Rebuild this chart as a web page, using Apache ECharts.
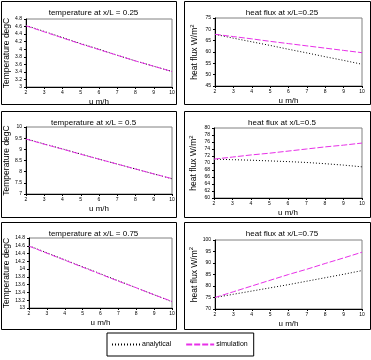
<!DOCTYPE html>
<html>
<head>
  <meta charset="utf-8">
  <script src="https://cdn.jsdelivr.net/npm/echarts@6/dist/echarts.min.js"></script>
  <title>temperature / heat flux</title>
  <style type="text/css">
    html,
    body {
      margin: 0;
      background-color: #fff;
    }

    #main {
      width: 371px;
      height: 360px;
    }
  </style>
</head>
<body>
  <div id="main"></div>
  <script type="text/javascript">
    // flow velocity u (m/h)
    var u = [2, 3, 4, 5, 6, 7, 8, 9, 10];

    // temperature, degC
    var temp025Analytical = [4.63, 4.47, 4.31, 4.15, 4.00, 3.84, 3.69, 3.55, 3.41];
    var temp025Simulation = [4.62, 4.46, 4.30, 4.14, 3.99, 3.84, 3.69, 3.55, 3.41];
    var temp05Analytical = [9.47, 9.24, 9.02, 8.79, 8.56, 8.34, 8.12, 7.90, 7.68];
    var temp05Simulation = [9.46, 9.23, 9.01, 8.78, 8.56, 8.34, 8.12, 7.90, 7.69];
    var temp075Analytical = [14.60, 14.42, 14.24, 14.06, 13.88, 13.70, 13.52, 13.34, 13.16];
    var temp075Simulation = [14.59, 14.41, 14.23, 14.05, 13.87, 13.69, 13.52, 13.34, 13.17];

    // heat flux, W/m2
    var flux025Analytical = [67.8, 66.1, 64.5, 62.9, 61.2, 59.6, 57.9, 56.3, 54.6];
    var flux025Simulation = [67.8, 66.8, 65.8, 64.7, 63.7, 62.7, 61.7, 60.7, 59.7];
    var flux05Analytical = [71.1, 70.95, 70.8, 70.6, 70.4, 70.15, 69.8, 69.4, 68.9];
    var flux05Simulation = [71.1, 71.7, 72.3, 72.8, 73.4, 74.0, 74.6, 75.1, 75.7];
    var flux075Analytical = [75.0, 76.4, 77.8, 79.2, 80.6, 82.1, 83.6, 85.1, 86.7];
    var flux075Simulation = [75.0, 77.5, 80.0, 82.5, 85.0, 87.3, 89.8, 92.2, 94.7];

    var font = 'Liberation Sans, Arial, sans-serif';
    var magenta = '#e830e8';

    // each panel: titles, axis range, data, where it sits
    var panels = [
      { title: 'temperature at x/L = 0.25', yName: 'Temperature degC', min: 3, max: 4.8, step: 0.2,
        a: temp025Analytical, s: temp025Simulation,
        box: [1, 1, 175, 103], grid: [26, 19, 146, 68] },
      { title: 'heat flux at x/L=0.25', yName: 'heat flux W/m{sup|2}', min: 45, max: 75, step: 5,
        a: flux025Analytical, s: flux025Simulation,
        box: [184, 1, 186, 103], grid: [215, 18, 147, 68] },
      { title: 'temperature at x/L = 0.5', yName: 'Temperature degC', min: 7, max: 10, step: 0.5,
        a: temp05Analytical, s: temp05Simulation,
        box: [1, 111, 175, 106], grid: [26, 127, 146, 67] },
      { title: 'heat flux at x/L=0.5', yName: 'heat flux W/m{sup|2}', min: 60, max: 80, step: 2,
        a: flux05Analytical, s: flux05Simulation,
        box: [184, 111, 186, 106], grid: [214, 128, 148, 70] },
      { title: 'temperature at x/L = 0.75', yName: 'Temperature degC', min: 13, max: 14.8, step: 0.2,
        a: temp075Analytical, s: temp075Simulation,
        box: [1, 222, 175, 107], grid: [29, 238, 143, 70] },
      { title: 'heat flux at x/L=0.75', yName: 'heat flux W/m{sup|2}', min: 70, max: 100, step: 5,
        a: flux075Analytical, s: flux075Simulation,
        box: [184, 222, 186, 107], grid: [215, 240, 147, 69] }
    ];

    function pairs(vals) {
      var out = [];
      for (var i = 0; i < u.length; i++) {
        out.push([u[i], vals[i]]);
      }
      return out;
    }

    var titles = [], grids = [], xAxes = [], yAxes = [], series = [], boxes = [];

    for (var i = 0; i < panels.length; i++) {
      var p = panels[i];
      boxes.push({
        type: 'rect',
        shape: { x: p.box[0] + 0.5, y: p.box[1] + 0.5, width: p.box[2], height: p.box[3] },
        style: { fill: 'none', stroke: '#000', lineWidth: 1 }
      });
      titles.push({
        text: p.title,
        left: p.box[0] + p.box[2] / 2,
        top: p.box[1] + 3,
        textAlign: 'center',
        textStyle: { fontFamily: font, fontSize: 8, fontWeight: 'normal', color: '#000' }
      });
      grids.push({
        left: p.grid[0], top: p.grid[1], width: p.grid[2], height: p.grid[3],
        show: true, borderColor: '#808080', borderWidth: 1, backgroundColor: '#fff'
      });
      xAxes.push({
        type: 'value', gridIndex: i, min: 2, max: 10, interval: 1,
        name: 'u m/h', nameLocation: 'middle', nameGap: 11,
        nameTextStyle: { fontFamily: font, fontSize: 8, color: '#000' },
        axisLine: { onZero: false, lineStyle: { color: '#000', width: 1 } },
        axisTick: { show: true, length: 2, lineStyle: { color: '#000' } },
        axisLabel: { fontFamily: font, fontSize: 5, color: '#000', margin: 3 },
        splitLine: { show: false }
      });
      yAxes.push({
        type: 'value', gridIndex: i, min: p.min, max: p.max, interval: p.step,
        name: p.yName, nameLocation: 'middle', nameGap: 14,
        nameTextStyle: {
          fontFamily: font, fontSize: 8.5, color: '#000',
          rich: { sup: { fontFamily: font, fontSize: 6, color: '#000', verticalAlign: 'top', padding: [0, 0, 6, 0] } }
        },
        axisLine: { onZero: false, lineStyle: { color: '#000', width: 1 } },
        axisTick: { show: true, length: 2, lineStyle: { color: '#000' } },
        axisLabel: { fontFamily: font, fontSize: 5, color: '#000', margin: 4 },
        splitLine: { show: false }
      });
      series.push({
        name: 'analytical', type: 'line', xAxisIndex: i, yAxisIndex: i,
        data: pairs(p.a), showSymbol: false, symbol: 'none', silent: true,
        itemStyle: { color: '#000' },
        lineStyle: { color: '#000', width: 1, type: [1, 2] }
      });
      series.push({
        name: 'simulation', type: 'line', xAxisIndex: i, yAxisIndex: i,
        data: pairs(p.s), showSymbol: false, symbol: 'none', silent: true,
        itemStyle: { color: magenta },
        lineStyle: { color: magenta, width: 1, type: [6, 2] }
      });
    }

    var myChart = echarts.init(document.getElementById('main'));

    var option = {
      animation: false,
      backgroundColor: '#fff',
      title: titles,
      grid: grids,
      xAxis: xAxes,
      yAxis: yAxes,
      series: series,
      legend: {
        data: ['analytical', 'simulation'],
        left: 107, top: 333, width: 148,
        padding: [8, 6, 8, 4],
        borderColor: '#000', borderWidth: 1,
        itemWidth: 28, itemHeight: 8, itemGap: 14,
        selectedMode: false,
        itemStyle: { opacity: 0 },
        textStyle: { fontFamily: font, fontSize: 7, color: '#000', padding: [0, 0, 0, -3] }
      },
      graphic: boxes
    };

    myChart.setOption(option);
  </script>
</body>
</html>
